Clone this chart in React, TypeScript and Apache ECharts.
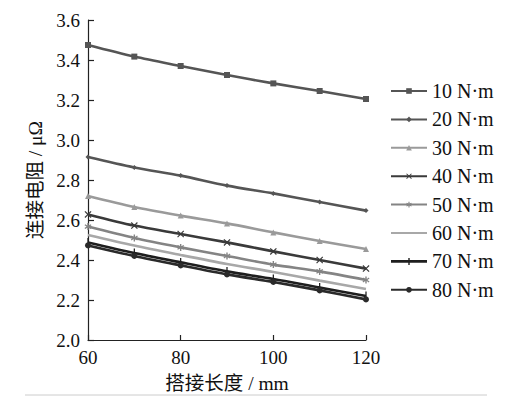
import React, { useEffect, useRef } from "react";
import * as echarts from "echarts";

const xValues = [60, 70, 80, 90, 100, 110, 120];
const seriesNames = ["10 N·m", "20 N·m", "30 N·m", "40 N·m", "50 N·m", "60 N·m", "70 N·m", "80 N·m"];
const s10 = [3.475, 3.417, 3.37, 3.325, 3.283, 3.245, 3.205];
const s20 = [2.915, 2.863, 2.822, 2.772, 2.733, 2.69, 2.647];
const s30 = [2.72, 2.665, 2.622, 2.583, 2.538, 2.495, 2.455];
const s40 = [2.628, 2.572, 2.53, 2.488, 2.443, 2.4, 2.357];
const s50 = [2.567, 2.51, 2.463, 2.42, 2.377, 2.343, 2.3];
const s60 = [2.525, 2.472, 2.425, 2.38, 2.34, 2.297, 2.255];
const s70 = [2.488, 2.435, 2.388, 2.343, 2.305, 2.262, 2.22];
const s80 = [2.473, 2.42, 2.373, 2.328, 2.29, 2.248, 2.203];
const allSeries = [s10, s20, s30, s40, s50, s60, s70, s80];

const colors = ["#555555", "#555555", "#9a9a9a", "#3a3a3a", "#848484", "#a8a8a8", "#1e1e1e", "#2a2a2a"];
const xMark = "path://M0,1.2L1.2,0L5,3.8L8.8,0L10,1.2L6.2,5L10,8.8L8.8,10L5,6.2L1.2,10L0,8.8L3.8,5Z";
const starMark = "path://M4,0H6V3.5L9,1.5L10,3L7,5L10,7L9,8.5L6,6.5V10H4V6.5L1,8.5L0,7L3,5L0,3L1,1.5L4,3.5Z";
const plusMark = "path://M0,0H1.4V10H0Z";
const plusLegendIcon = "path://M0,2.2H36V4.8H0Z M17.3,0H18.7V7H17.3Z";
const symbols = ["rect", "diamond", "triangle", xMark, starMark, "none", plusMark, "circle"];
const symbolSizes = [6, 5, 6, 7, 7, 0, 9, 6];

const serifFont = "Liberation Serif";
const cjkFont = "Liberation Serif, Noto Sans CJK SC";

export default function App() {
  const ref = useRef<HTMLDivElement>(null);
  useEffect(() => {
    if (!ref.current) return;
    const chart = echarts.init(ref.current, null, { renderer: "svg" });
    chart.setOption({
      animation: false,
      backgroundColor: "#ffffff",
      grid: {
        left: 88,
        right: 157,
        top: 20,
        bottom: 57,
        containLabel: false,
        outerBoundsMode: "none",
      },
      legend: {
        orient: "vertical",
        left: 385,
        top: 76,
        itemWidth: 36,
        itemHeight: 7,
        itemGap: 8.4,
        data: seriesNames.map((n, i) => {
          if (symbols[i] === "none") return { name: n, itemStyle: { opacity: 0 } };
          if (symbols[i] === plusMark) return { name: n, icon: plusLegendIcon };
          return { name: n };
        }),
        textStyle: { fontFamily: serifFont, fontSize: 20, lineHeight: 20, color: "#111" },
      },
      xAxis: {
        type: "value",
        min: 60,
        max: 120,
        interval: 20,
        name: "搭接长度 / mm",
        nameLocation: "middle",
        nameGap: 34,
        nameTextStyle: { fontFamily: cjkFont, fontSize: 19.5, color: "#111" },
        axisLine: { lineStyle: { color: "#222", width: 1.2 } },
        axisTick: { inside: true, length: 5, lineStyle: { color: "#222", width: 1.2 } },
        axisLabel: { fontFamily: serifFont, fontSize: 19, color: "#111", margin: 8 },
        splitLine: { show: false },
      },
      yAxis: {
        type: "value",
        min: 2.0,
        max: 3.6,
        interval: 0.2,
        name: "连接电阻 / μΩ",
        nameLocation: "middle",
        nameGap: 39,
        nameRotate: 90,
        nameTextStyle: { fontFamily: cjkFont, fontSize: 19.5, color: "#111" },
        axisLine: { show: true, lineStyle: { color: "#222", width: 1.2 } },
        axisTick: { show: true, inside: true, length: 6, lineStyle: { color: "#222", width: 1.2 } },
        axisLabel: {
          fontFamily: serifFont,
          fontSize: 19,
          color: "#111",
          margin: 8,
          formatter: (v: number) => v.toFixed(1),
        },
        splitLine: { show: false },
      },
      series: allSeries.map((d, i) => ({
        name: seriesNames[i],
        type: "line",
        smooth: 0.3,
        data: xValues.map((x, j) => [x, d[j]]),
        symbol: symbols[i],
        symbolSize: symbolSizes[i],
        symbolKeepAspect: true,
        showSymbol: symbols[i] !== "none",
        color: colors[i],
        lineStyle: { color: colors[i], width: 2.6 },
        itemStyle: { color: colors[i] },
      })),
      graphic: [
        {
          type: "line",
          shape: { x1: 25, y1: 395, x2: 487, y2: 395 },
          style: { stroke: "#cccccc", lineWidth: 1 },
        },
      ],
    });
    return () => chart.dispose();
  }, []);
  return (
    <div
      ref={ref}
      style={{ position: "absolute", left: 0, top: 0, width: 523, height: 397 }}
    />
  );
}
